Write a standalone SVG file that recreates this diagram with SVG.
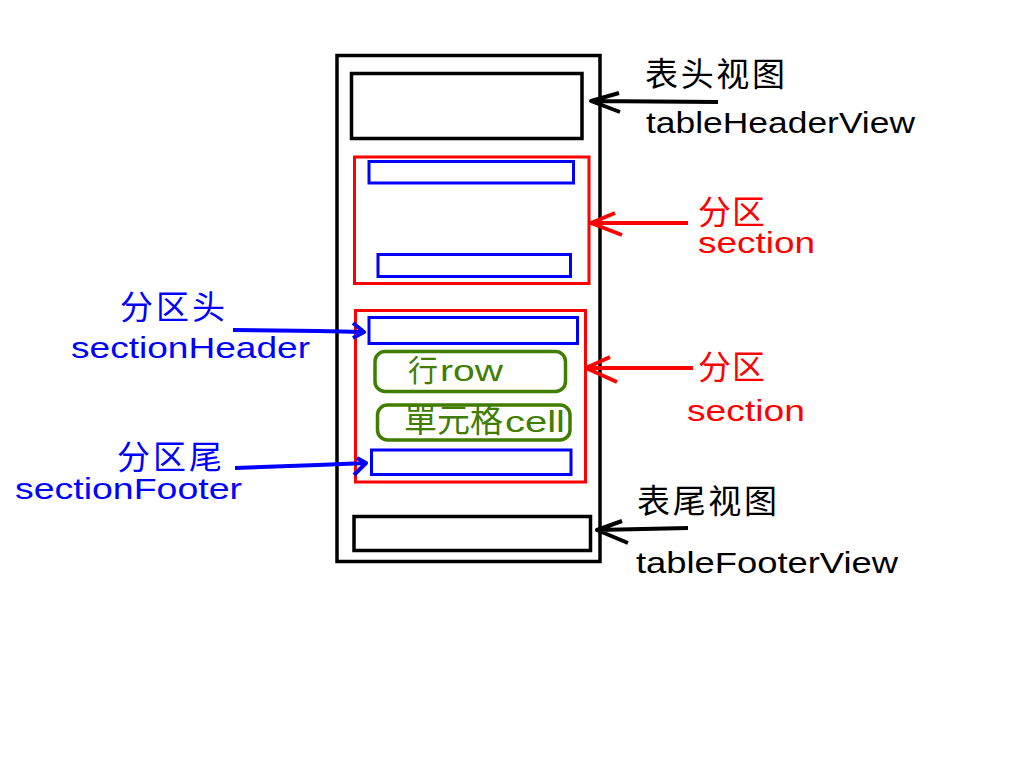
<svg xmlns="http://www.w3.org/2000/svg" width="1024" height="768" viewBox="0 0 1024 768">
<style>
.box{fill:none}
.k{stroke:#000}
.r{stroke:#ff0000}
.b{stroke:#0000ff}
.g{stroke:#417d00}
.lat{font-family:"Liberation Sans",Arial,sans-serif;font-size:30px}
.cjk{font-family:"Noto Sans CJK SC","Noto Sans CJK TC",sans-serif;font-size:33px}
.tk{fill:#000}.tr{fill:#ff0000}.tb{fill:#0000ff}.tg{fill:#417d00}
.arr{fill:none;stroke-width:4;stroke-linecap:butt;stroke-linejoin:round}
</style>
<rect width="1024" height="768" fill="#fff"/>
<g id="table"><rect class="box k" x="337" y="55.5" width="263" height="506" stroke-width="3.5"/></g>
<g id="tableHeaderView"><rect class="box k" x="351.5" y="73.5" width="230.5" height="65" stroke-width="3.5"/></g>
<g id="section1">
<rect class="box r" x="354.5" y="157" width="234.5" height="126.5" stroke-width="3"/>
<rect class="box b" x="369" y="161.5" width="204.5" height="21.5" stroke-width="3"/>
<rect class="box b" x="378" y="254.5" width="192.5" height="22" stroke-width="3"/>
</g>
<g id="section2">
<rect class="box r" x="355.5" y="310.5" width="230" height="171.5" stroke-width="3"/>
<rect class="box b" x="369" y="317.5" width="208.5" height="26" stroke-width="3"/>
<rect class="box b" x="371.5" y="450" width="199.5" height="24.5" stroke-width="3"/>
</g>
<g id="row">
<rect class="box g" x="375" y="351.5" width="190.5" height="40" rx="10" stroke-width="3.5"/>
<text class="cjk tg" x="408" y="381" style="font-size:30px">行</text>
<text class="lat tg" x="440" y="381" textLength="63" lengthAdjust="spacingAndGlyphs">row</text>
</g>
<g id="cell">
<rect class="box g" x="377.5" y="405" width="192.5" height="35" rx="10" stroke-width="3.5"/>
<text class="cjk tg" x="404" y="432">單元格</text>
<text class="lat tg" x="505" y="432" textLength="60" lengthAdjust="spacingAndGlyphs">cell</text>
</g>
<g id="tableFooterView"><rect class="box k" x="354" y="516.5" width="236.5" height="34" stroke-width="3.5"/></g>
<g id="connectors">
<path class="arr k" d="M718 102 L591 101 M619 93 L591 101 L620 112"/>
<path class="arr r" d="M688 223 L591 223 M615 213 L591 223 L622 235"/>
<path class="arr r" d="M693 368 L586 368 M610 357 L586 368 L617 382"/>
<path class="arr k" d="M688 528 L597 530 M622 521 L597 530 L628 543"/>
<path class="arr b" d="M233 330 L318 331 L364 332 M353 323 L364 332 L353 338"/>
<path class="arr b" d="M235 468 L318 465 L366 463 M357 458 L366 463 L354 475"/>
</g>
<g id="labels">
<text class="cjk tk" x="645" y="85.5" textLength="140">表头视图</text>
<text class="lat tk" x="646" y="133" textLength="269" lengthAdjust="spacingAndGlyphs">tableHeaderView</text>
<text class="cjk tr" x="698" y="224" textLength="67">分区</text>
<text class="lat tr" x="698" y="253" textLength="117" lengthAdjust="spacingAndGlyphs">section</text>
<text class="cjk tr" x="698" y="379" textLength="67">分区</text>
<text class="lat tr" x="687" y="421" textLength="118" lengthAdjust="spacingAndGlyphs">section</text>
<text class="cjk tk" x="637" y="512.5" textLength="140">表尾视图</text>
<text class="lat tk" x="636" y="573" textLength="262" lengthAdjust="spacingAndGlyphs">tableFooterView</text>
<text class="cjk tb" x="120" y="319" textLength="105">分区头</text>
<text class="lat tb" x="71" y="358" textLength="239" lengthAdjust="spacingAndGlyphs">sectionHeader</text>
<text class="cjk tb" x="117" y="469" textLength="105">分区尾</text>
<text class="lat tb" x="15" y="499" textLength="227" lengthAdjust="spacingAndGlyphs">sectionFooter</text>
</g>
</svg>
